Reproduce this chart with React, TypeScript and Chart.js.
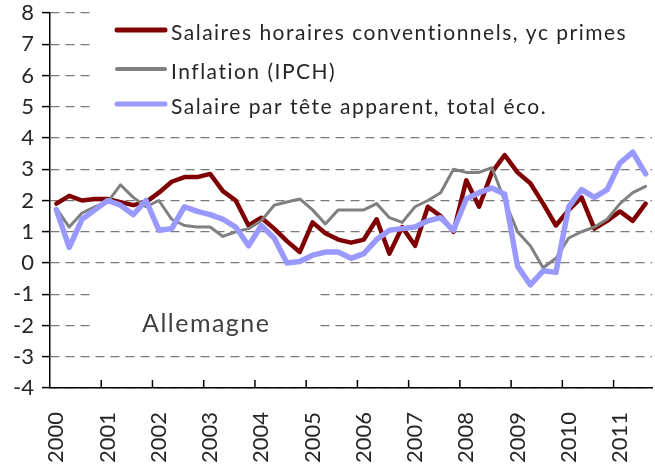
import React, { useEffect, useRef } from 'react';
import { Chart, registerables } from 'chart.js';

Chart.register(...registerables);

const years = ['2000', '2001', '2002', '2003', '2004', '2005', '2006', '2007', '2008', '2009', '2010', '2011'];
const quarterTags = ['T1', 'T2', 'T3', 'T4'];
const categories: string[] = [];
years.forEach((y) => quarterTags.forEach((q) => categories.push(y + q)));
categories.length = 47; // 2000T1 .. 2011T3

const seriesNames = [
  'Salaires horaires conventionnels, yc primes',
  'Inflation (IPCH)',
  'Salaire par tête apparent, total éco.',
];

const salairesHoraires = [
  1.9, 2.15, 2.0, 2.05, 2.05, 1.95, 1.85, 1.95,
  2.25, 2.6, 2.75, 2.75, 2.85, 2.3, 2.0, 1.2,
  1.45, 1.1, 0.7, 0.35, 1.3, 0.95, 0.75, 0.65,
  0.75, 1.4, 0.3, 1.15, 0.55, 1.8, 1.5, 1.0,
  2.65, 1.8, 2.9, 3.45, 2.9, 2.55, 1.9, 1.2,
  1.7, 2.1, 1.1, 1.35, 1.65, 1.35, 1.9,
];

const inflation = [
  1.75, 1.15, 1.6, 1.8, 1.95, 2.5, 2.1, 1.8,
  2.0, 1.4, 1.2, 1.15, 1.15, 0.85, 1.0, 1.1,
  1.35, 1.85, 1.95, 2.05, 1.7, 1.25, 1.7, 1.7,
  1.7, 1.9, 1.45, 1.3, 1.8, 2.0, 2.25, 3.0,
  2.9, 2.9, 3.05, 2.0, 1.0, 0.55, -0.15, 0.15,
  0.8, 1.0, 1.15, 1.4, 1.9, 2.25, 2.45,
];

const salaireParTete = [
  1.7, 0.5, 1.4, 1.7, 2.0, 1.85, 1.55, 2.0,
  1.05, 1.1, 1.8, 1.65, 1.55, 1.4, 1.15, 0.55,
  1.2, 0.8, 0.0, 0.05, 0.25, 0.35, 0.35, 0.15,
  0.3, 0.75, 1.05, 1.1, 1.15, 1.35, 1.45, 1.05,
  2.05, 2.25, 2.4, 2.2, -0.1, -0.7, -0.25, -0.3,
  1.8, 2.35, 2.1, 2.35, 3.2, 3.55, 2.85,
];

const seriesColors = ['#7f0000', '#808080', '#9999ff'];
const seriesWidths = [4.5, 3, 5.5];

const yMin = -4;
const yMax = 8;
const countryLabel = 'Allemagne';

const FONT = 'Lato, "Open Sans", sans-serif';
const TEXT_COLOR = '#262626';

const overlayPlugin = {
  id: 'overlay',
  beforeDatasetsDraw(chart: any) {
    const { ctx, scales } = chart;
    const x = scales.x;
    const y = scales.y;
    ctx.save();
    // white box behind legend
    ctx.fillStyle = '#ffffff';
    ctx.fillRect(x.left + 42, 0, chart.width - (x.left + 42), y.getPixelForValue(4.5));
    // white box behind country label
    ctx.fillRect(x.left + 42, y.getPixelForValue(-0.55), 223, y.getPixelForValue(-2.55) - y.getPixelForValue(-0.55));

    // legend
    ctx.lineCap = 'round';
    const rows = [30, 69, 104];
    seriesNames.forEach((name, i) => {
      const ry = rows[i];
      ctx.strokeStyle = seriesColors[i];
      ctx.lineWidth = i === 1 ? 4 : 5;
      ctx.beginPath();
      ctx.moveTo(117, ry);
      ctx.lineTo(165, ry);
      ctx.stroke();
      ctx.fillStyle = TEXT_COLOR;
      ctx.font = '21px ' + FONT;
      (ctx as any).letterSpacing = '1.5px';
      ctx.textBaseline = 'alphabetic';
      ctx.textAlign = 'left';
      ctx.fillText(name, 171, ry + 10);
    });

    // country label
    (ctx as any).letterSpacing = '1.5px';
    ctx.font = '25px ' + FONT;
    ctx.fillStyle = '#404040';
    ctx.fillText(countryLabel, 142, y.getPixelForValue(-2.2));
    (ctx as any).letterSpacing = '0px';
    ctx.restore();
  },
  afterDraw(chart: any) {
    const { ctx, scales } = chart;
    const x = scales.x;
    ctx.save();
    ctx.strokeStyle = '#000';
    ctx.lineWidth = 1.5;
    for (let i = 4; i < categories.length; i += 4) {
      const px = (x.getPixelForValue(i - 1) + x.getPixelForValue(i)) / 2;
      ctx.beginPath();
      ctx.moveTo(px, x.top);
      ctx.lineTo(px, x.top - 8);
      ctx.stroke();
    }
    ctx.restore();
  },
};

export default function App() {
  const ref = useRef<HTMLCanvasElement | null>(null);

  useEffect(() => {
    if (!ref.current) return;
    const data = [salairesHoraires, inflation, salaireParTete];
    const chart = new Chart(ref.current, {
      type: 'line',
      data: {
        labels: categories,
        datasets: data.map((d, i) => ({
          label: seriesNames[i],
          data: d,
          borderColor: seriesColors[i],
          backgroundColor: seriesColors[i],
          borderWidth: seriesWidths[i],
          pointRadius: 0,
          tension: 0,
          fill: false,
          borderJoinStyle: 'round' as const,
          borderCapStyle: 'round' as const,
          order: 2 - i,
        })),
      },
      options: {
        responsive: false,
        animation: false,
        layout: { padding: { top: 13, right: 3, left: 0, bottom: 0 } },
        plugins: {
          legend: { display: false },
          tooltip: { enabled: false },
          title: { display: false },
        },
        scales: {
          x: {
            type: 'category',
            offset: true,
            grid: { display: false, drawTicks: false, offset: true },
            border: { display: true, color: '#000', width: 1.5 },
            ticks: {
              autoSkip: false,
              maxRotation: 90,
              minRotation: 90,
              padding: 24,
              color: TEXT_COLOR,
              font: { family: FONT, size: 22 },
              callback: (_v: any, i: number) => (i % 4 === 0 ? categories[i].slice(0, 4) : ''),
            },
            afterFit: (s: any) => {
              s.height = 76;
              s.paddingLeft = 0;
              s.paddingRight = 0;
            },
          },
          y: {
            min: yMin,
            max: yMax,
            ticks: {
              stepSize: 1,
              padding: 8,
              color: TEXT_COLOR,
              font: { family: FONT, size: 22 },
            },
            grid: {
              color: '#7a7a7a',
              lineWidth: 1.2,
              tickColor: '#000',
              tickLength: 8,
              tickWidth: 1.5,
              tickBorderDash: [],
            },
            border: { display: true, color: '#000', width: 1.5, dash: [9, 6] },
            afterFit: (s: any) => {
              s.width = 50;
              s.paddingTop = 0;
              s.paddingBottom = 0;
            },
          },
        },
      },
      plugins: [overlayPlugin],
    });
    return () => chart.destroy();
  }, []);

  return (
    <div style={{ position: 'absolute', left: 0, top: 0, width: 655, height: 464, background: '#fff' }}>
      <canvas ref={ref} width={655} height={464} />
    </div>
  );
}
